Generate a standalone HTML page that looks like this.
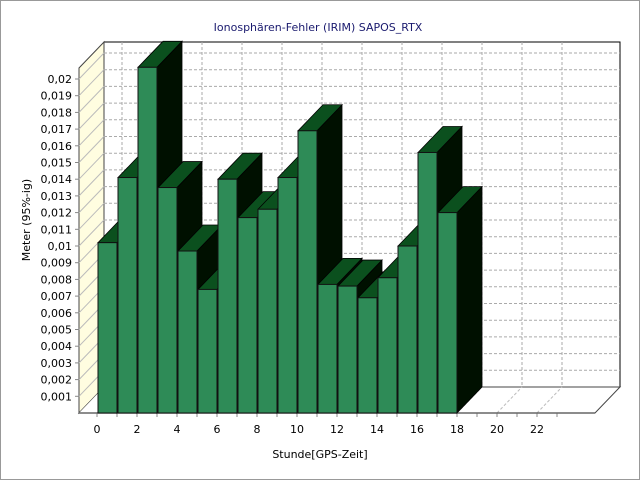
<!DOCTYPE html>
<html><head><meta charset="utf-8"><style>
body{margin:0;background:#fff}
svg{display:block;font-family:"DejaVu Sans","Liberation Sans",sans-serif}
</style></head><body>
<svg id="c" width="640" height="480" viewBox="0 0 640 480">
<rect x="0.5" y="0.5" width="639" height="479" fill="#fff" stroke="#999"/>
<text x="318" y="31" text-anchor="middle" font-size="11" fill="#1a1a6e">Ionosphären-Fehler (IRIM) SAPOS_RTX</text>
<text x="320" y="458" text-anchor="middle" font-size="11" fill="#000">Stunde[GPS-Zeit]</text>
<text transform="translate(30,220) rotate(-90)" text-anchor="middle" font-size="11" fill="#000">Meter (95%-ig)</text>
<g id="plot"></g>
</svg>
<script>
const hours=[0,1,2,3,4,5,6,7,8,9,10,11,12,13,14,15,16,17];
const values=[0.0102,0.0141,0.0207,0.0135,0.0097,0.0074,0.0140,0.0117,0.0122,0.0141,0.0169,0.0077,0.0076,0.0069,0.0081,0.0100,0.0156,0.0120];
const yTicks=[0.001,0.002,0.003,0.004,0.005,0.006,0.007,0.008,0.009,0.01,0.011,0.012,0.013,0.014,0.015,0.016,0.017,0.018,0.019,0.02];
const xTicks=[0,2,4,6,8,10,12,14,16,18,20,22];

const NS="http://www.w3.org/2000/svg";
const g=document.getElementById('plot');
const X0=97,HW=20,Y0=413,YS=16700,DX=25,DY=-26,LEFT=79,RIGHT=595;
const TOPV=0.0207;
const xs=h=>X0+h*HW;
const ys=v=>Y0-v*YS;
function el(t,a){const e=document.createElementNS(NS,t);for(const k in a)e.setAttribute(k,a[k]);g.appendChild(e);return e;}
const topY=68;
// back wall
let e=el('rect',{x:LEFT+DX,y:topY+DY,width:RIGHT-LEFT,height:Y0-topY,fill:'#fff',stroke:'#000','stroke-width':1});


// left wall
e=el('polygon',{points:`${LEFT},${Y0} ${LEFT+DX},${Y0+DY} ${LEFT+DX},${topY+DY} ${LEFT},${topY}`,fill:'#fffde0',stroke:'#444','stroke-width':1});


// floor
e=el('polygon',{points:`${LEFT},${Y0} ${RIGHT},${Y0} ${RIGHT+DX},${Y0+DY} ${LEFT+DX},${Y0+DY}`,fill:'#fff',stroke:'#444','stroke-width':1});


e=el('polygon',{points:`${LEFT},${Y0} ${LEFT+DX},${Y0+DY} ${LEFT+DX},${Y0} `,fill:'#fff'});


// horizontal grid
yTicks.forEach(v=>{
  const y=ys(v);
  let l=el('line',{x1:LEFT+DX,y1:y+DY,x2:RIGHT+DX,y2:y+DY,stroke:'#aaa','stroke-dasharray':'3,2'});
  
  
  l=el('line',{x1:LEFT,y1:y,x2:LEFT+DX,y2:y+DY,stroke:'#bbb'});
  
  
  l=el('line',{x1:LEFT-4,y1:y,x2:LEFT,y2:y,stroke:'#888'});
  
  
  const t=el('text',{x:LEFT-7,y:y+4,'text-anchor':'end','font-size':11,fill:'#000'});
  t.textContent=String(v).replace('.',',');
  
  
});
// vertical grid
xTicks.forEach(h=>{
  const x=xs(h);
  let l=el('line',{x1:x+DX,y1:topY+DY,x2:x+DX,y2:Y0+DY,stroke:'#aaa','stroke-dasharray':'3,2'});
  
  
  l=el('line',{x1:x,y1:Y0,x2:x+DX,y2:Y0+DY,stroke:'#bbb','stroke-dasharray':'3,2'});
  
  
  const t=el('text',{x:x,y:Y0+20,'text-anchor':'middle','font-size':11,fill:'#000'});
  t.textContent=h;
  
  
});
for(let h=0;h<=23;h++){
  const l=el('line',{x1:xs(h),y1:Y0,x2:xs(h),y2:Y0+4,stroke:'#888'});
  
  
}
// front axis line
e=el('line',{x1:LEFT,y1:Y0,x2:RIGHT,y2:Y0,stroke:'#666','stroke-width':1.5});


// bars
hours.forEach((h,i)=>{
  const x=xs(h)+1,w=HW-1,y=ys(values[i]);
  const side=el('polygon',{points:`${x+w},${Y0} ${x+w+DX},${Y0+DY} ${x+w+DX},${y+DY} ${x+w},${y}`,fill:'#001000',stroke:'#000','stroke-width':0.8});
  
  
  const top=el('polygon',{points:`${x},${y} ${x+DX},${y+DY} ${x+w+DX},${y+DY} ${x+w},${y}`,fill:'#0b501e',stroke:'#000','stroke-width':0.8});
  
  
  const f=el('rect',{x:x,y:y,width:w,height:Y0-y,fill:'#2e8b57',stroke:'#111','stroke-width':1});
  
  
});
</script>
</body></html>
